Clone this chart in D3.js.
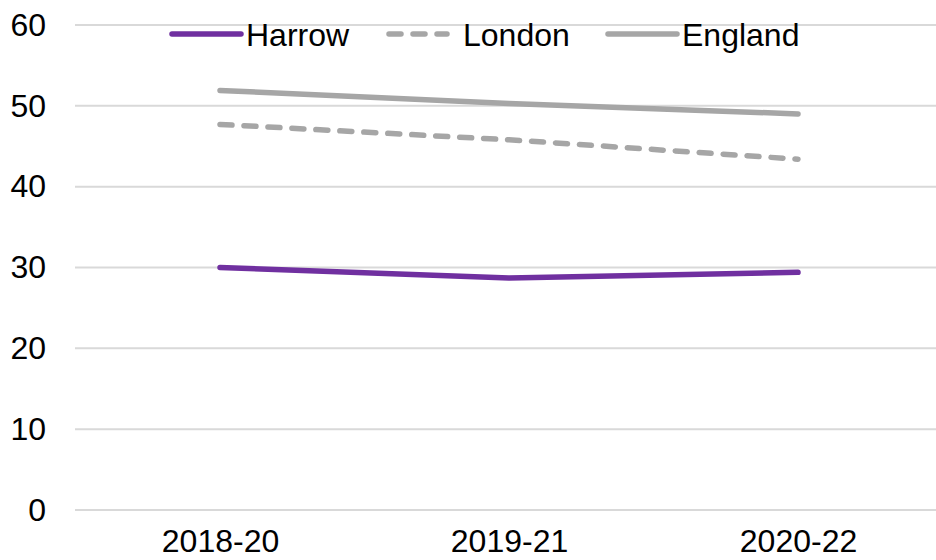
<!DOCTYPE html>
<html><head><meta charset="utf-8">
<script src="https://cdn.jsdelivr.net/npm/d3@7"></script>
<style>html,body{margin:0;padding:0;background:#fff;}svg{display:block;font-family:"Liberation Sans",Arial,sans-serif;}</style>
</head><body>
<svg id="c" width="936" height="560"></svg>
<script>
const categories = ["2018-20", "2019-21", "2020-22"];
const harrow = [30.0, 28.7, 29.4];
const london = [47.7, 45.8, 43.4];
const england = [51.9, 50.3, 49.0];
const yTicks = [0, 10, 20, 30, 40, 50, 60];

const series = [
  {name: "Harrow", values: harrow, color: "#7030A0", dash: null},
  {name: "London", values: london, color: "#A6A6A6", dash: "12,12"},
  {name: "England", values: england, color: "#A6A6A6", dash: null}
];

const svg = d3.select("#c");
const x = d3.scalePoint().domain(categories).range([75.5, 942.5]).padding(0.5);
const y = d3.scaleLinear().domain([0, 60]).range([510, 25]);

// gridlines
svg.append("g").selectAll("line").data(yTicks).join("line")
  .attr("x1", 75).attr("x2", 936)
  .attr("y1", d => y(d)).attr("y2", d => y(d))
  .attr("stroke", "#D9D9D9").attr("stroke-width", 2);

// y axis labels
const yAxis = d3.axisLeft(y).tickValues(yTicks).tickSize(0).tickPadding(0);
const ya = svg.append("g").attr("transform", "translate(46,0)").call(yAxis);
ya.select(".domain").remove();
ya.selectAll("text").attr("font-size", 32).attr("fill", "#000")
  .attr("font-family", "Liberation Sans, Arial, sans-serif").attr("dy", "0.32em");

// x axis labels
const xAxis = d3.axisBottom(x).tickSize(0).tickPadding(0);
const xa = svg.append("g").attr("transform", "translate(0,529)").call(xAxis);
xa.select(".domain").remove();
xa.selectAll("text").attr("font-size", 32).attr("fill", "#000")
  .attr("font-family", "Liberation Sans, Arial, sans-serif").attr("dy", "0.71em");

// lines
const line = d3.line().x((d, i) => x(categories[i])).y(d => y(d));
svg.append("g").selectAll("path").data(series).join("path")
  .attr("d", d => line(d.values))
  .attr("fill", "none")
  .attr("stroke", d => d.color)
  .attr("stroke-width", 5.5)
  .attr("stroke-linecap", "round")
  .attr("stroke-linejoin", "round")
  .attr("stroke-dasharray", d => d.dash);

// legend
const legendPos = [{x1: 172, x2: 241, tx: 246}, {x1: 389, x2: 447, tx: 463}, {x1: 608, x2: 677, tx: 682}];
const lg = svg.append("g");
series.forEach((s, i) => {
  const p = legendPos[i];
  lg.append("line").attr("x1", p.x1).attr("x2", p.x2).attr("y1", 34).attr("y2", 34)
    .attr("stroke", s.color).attr("stroke-width", 5.5).attr("stroke-linecap", "round")
    .attr("stroke-dasharray", s.dash);
  lg.append("text").attr("x", p.tx).attr("y", 34).attr("dy", "0.36em")
    .attr("font-size", 32).attr("fill", "#000").text(s.name);
});
</script>
</body></html>
